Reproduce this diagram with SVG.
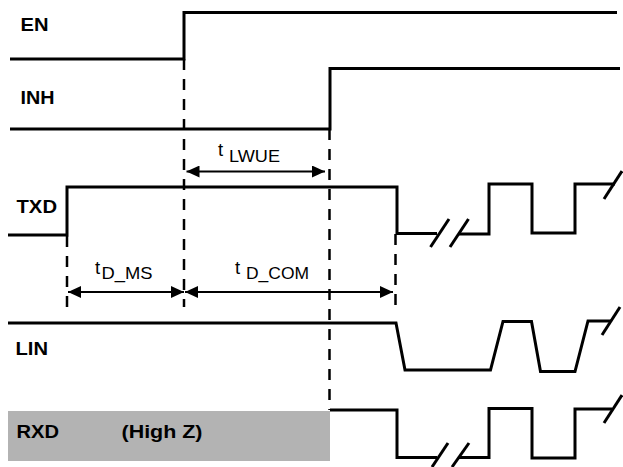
<svg xmlns="http://www.w3.org/2000/svg" width="623" height="467" viewBox="0 0 623 467">
<style>
.sig{fill:none;stroke:#000;stroke-width:3;stroke-linejoin:miter;stroke-linecap:butt}
.brk{fill:none;stroke:#000;stroke-width:3;stroke-linecap:butt}
.dash{fill:none;stroke:#000;stroke-width:2.5;stroke-dasharray:11 9}
.dim{fill:none;stroke:#000;stroke-width:2;marker-start:url(#ah);marker-end:url(#ah)}
.lbl{font-family:"Liberation Sans",Arial,sans-serif;font-weight:bold;font-size:17.5px;fill:#000}
.t{font-family:"Liberation Sans",Arial,sans-serif;font-size:18.5px;fill:#000}
.sub{font-family:"Liberation Sans",Arial,sans-serif;font-size:16.5px;fill:#000}
</style>
<defs>
<marker id="ah" markerUnits="userSpaceOnUse" markerWidth="13" markerHeight="12" refX="13" refY="6" orient="auto-start-reverse" viewBox="0 0 13 12">
<path d="M0,0 L13,6 L0,12 z" fill="#000"/>
</marker>
</defs>

<g id="EN">
<text class="lbl" x="20.5" y="31" textLength="28" lengthAdjust="spacingAndGlyphs">EN</text>
<polyline class="sig" points="10,59 184,59 184,12.5 617,12.5"/>
</g>

<g id="INH">
<text class="lbl" x="20.5" y="104" textLength="34" lengthAdjust="spacingAndGlyphs">INH</text>
<polyline class="sig" points="10,129 330,129 330,68.5 620,68.5"/>
</g>

<g id="TXD">
<text class="lbl" x="16.5" y="212.5" textLength="40.5" lengthAdjust="spacingAndGlyphs">TXD</text>
<polyline class="sig" points="8,235 67,235 67,187 397,187 397,233.5 437,233.5"/>
<polyline class="sig" points="458,234 489,234 489,184 532,184 532,233 575,233 575,184 615,184"/>
<line class="brk" x1="430.5" y1="247" x2="449" y2="219"/>
<line class="brk" x1="450" y1="247" x2="468.5" y2="219"/>
<line class="brk" x1="604" y1="199" x2="622" y2="171"/>
</g>

<g id="LIN">
<text class="lbl" x="15.5" y="355" textLength="32.5" lengthAdjust="spacingAndGlyphs">LIN</text>
<polyline class="sig" points="8,323 396,323 405,370 490.5,370 503,321.5 531.5,321.5 540.5,371.5 575,371.5 588,321 611,321"/>
<line class="brk" x1="602" y1="335" x2="620" y2="307"/>
</g>

<g id="RXD">
<rect x="8" y="411" width="322" height="50" fill="#b3b3b3"/>
<text class="lbl" x="16.5" y="437.5" textLength="42.5" lengthAdjust="spacingAndGlyphs">RXD</text>
<text class="lbl" x="121.5" y="437.5" textLength="81" lengthAdjust="spacingAndGlyphs">(High Z)</text>
<polyline class="sig" points="330,410 397,410 397,457.5 437,457.5"/>
<polyline class="sig" points="458,457.5 489,457.5 489,408.5 532,408.5 532,458 575,458 575,409 612,409"/>
<line class="brk" x1="432" y1="467" x2="448" y2="443"/>
<line class="brk" x1="452" y1="467" x2="469" y2="443"/>
<line class="brk" x1="604" y1="423" x2="622" y2="395"/>
</g>

<g id="connectors">
<line class="dash" x1="184" y1="59" x2="184" y2="307"/>
<line class="dash" x1="329.5" y1="129" x2="329.5" y2="410"/>
<line class="dash" x1="67" y1="236" x2="67" y2="307"/>
<line class="dash" x1="395.5" y1="234" x2="395.5" y2="307"/>
<line class="dim" x1="186.5" y1="171.5" x2="325" y2="171.5"/>
<line class="dim" x1="68" y1="292" x2="184" y2="292"/>
<line class="dim" x1="185" y1="292" x2="393" y2="292"/>
</g>

<g id="labels">
<text class="t" x="218" y="155.5">t</text>
<text class="sub" x="229" y="161.5" textLength="51" lengthAdjust="spacingAndGlyphs">LWUE</text>
<text class="t" x="95" y="273.5">t</text>
<text class="sub" x="101.5" y="278.5" textLength="51" lengthAdjust="spacingAndGlyphs">D_MS</text>
<text class="t" x="235" y="273.5">t</text>
<text class="sub" x="246" y="278.5" textLength="63" lengthAdjust="spacingAndGlyphs">D_COM</text>
</g>
</svg>
